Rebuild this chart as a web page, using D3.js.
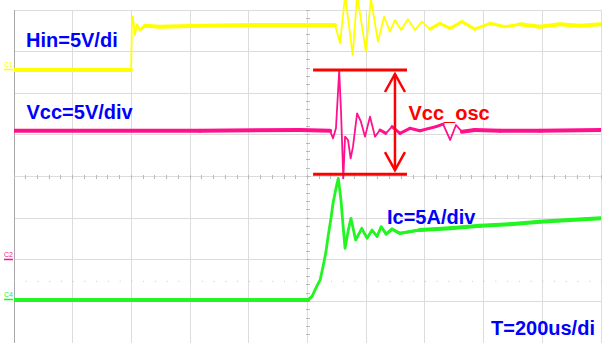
<!DOCTYPE html>
<html lang="en">
  <head>
    <meta charset="UTF-8" />
    <title>Vcc oscillation scope capture</title>
    <script src="https://d3js.org/d3.v7.min.js"></script>
    <style>
      body {
        margin: 0;
        background: #fff;
      }
      .grid line {
        stroke: #dcdcdc;
        stroke-width: 1;
        shape-rendering: crispEdges;
      }
      .tick-mark {
        stroke: #b8b8b8;
        shape-rendering: crispEdges;
      }
      .trace {
        fill: none;
        stroke-linejoin: round;
        stroke-linecap: round;
      }
      .label {
        font-family: "Liberation Sans", Arial, sans-serif;
        font-weight: bold;
        font-size: 20px;
      }
      .ch {
        font-family: "Liberation Sans", Arial, sans-serif;
        font-size: 7px;
      }
    </style>
  </head>
  <body>
    <div id="chart"></div>

    <script>
      // time in us (200us/div, trigger at centre), values in V or A
      const hinTime = [-1000, -601, -598, -595, -588, -581, -571, -554, -503, -366, -196, -26, 94, 111, 128, 154, 169, 199, 216, 240, 261, 281, 298, 319, 342, 366, 390, 417, 451, 486, 526, 570, 622, 673, 724, 792, 860, 928, 1000];
      const hinValue = [0, 0, 6.0, 6.4, 4.2, 5.5, 4.8, 5.3, 5.2, 5.3, 5.4, 5.4, 5.4, 3.2, 9.0, 1.8, 9.0, 2.2, 8.6, 3.4, 6.4, 4.6, 6.0, 4.8, 6.1, 4.8, 5.8, 4.9, 5.6, 5.0, 5.8, 4.9, 5.6, 5.2, 5.5, 5.2, 5.5, 5.3, 5.5];

      const vccTime = [-1000, -366, -26, 77, 87, 97, 108, 114, 122, 128, 138, 147, 155, 169, 182, 196, 213, 230, 247, 267, 288, 315, 349, 383, 438, 462, 486, 506, 526, 570, 656, 792, 1000];
      const vccValue = [15.5, 15.5, 15.6, 15.5, 14.6, 15.8, 22.7, 18.0, 9.8, 14.8, 14.4, 12.2, 13.6, 17.6, 16.6, 14.8, 17.2, 14.8, 15.6, 15.2, 16.0, 15.2, 15.8, 15.5, 16.0, 16.3, 14.4, 16.2, 15.4, 15.6, 15.5, 15.5, 15.6];

      const icTime = [-1000, -366, 2, 15, 31, 43, 53, 63, 70, 80, 87, 97, 105, 114, 121, 128, 138, 148, 164, 185, 203, 220, 237, 251, 268, 288, 315, 383, 486, 588, 690, 792, 894, 1000];
      const icValue = [0, 0, 0, 0.4, 1.6, 2.4, 4.0, 5.8, 7.6, 9.8, 11.6, 13.4, 14.6, 12.0, 9.0, 6.2, 8.2, 9.8, 7.2, 8.6, 7.4, 8.4, 7.6, 8.8, 7.9, 8.5, 8.0, 8.4, 8.6, 8.9, 9.1, 9.4, 9.6, 9.8];

      // channel settings: ground position (div from centre), units per div, trace look
      const channels = [
        { name: "C1", offset: 2.56, perDiv: 5, color: "#ffff00", thin: 1.8, time: hinTime, value: hinValue },
        { name: "C2", offset: -2.0, perDiv: 5, color: "#ff108c", thin: 1.8, time: vccTime, value: vccValue },
        { name: "C4", offset: -2.96, perDiv: 5, color: "#22f522", thin: 2.8, time: icTime, value: icValue },
      ];

      // Vcc_osc cursor: peak / trough of Vcc and the time span of the marker
      const oscMax = 22.8;
      const oscMin = 10.3;
      const oscSpan = [19, 339];
      const oscArrowTime = 298;

      const width = 608;
      const height = 343;
      const plotLeft = 14;
      const plotRight = 601;
      const plotTop = 10;
      const plotBottom = 343.3;

      const svg = d3.select("#chart").append("svg").attr("width", width).attr("height", height);

      const x = d3.scaleLinear().domain([-1000, 1000]).range([plotLeft, plotRight]);
      const y = d3.scaleLinear().domain([-4, 4]).range([plotBottom, plotTop]);

      svg.append("clipPath").attr("id", "screen").append("rect").attr("x", plotLeft).attr("y", 0).attr("width", plotRight - plotLeft).attr("height", height);

      // grid
      const grid = svg.append("g").attr("class", "grid");
      d3.range(-1000, 1001, 200).forEach((t) => {
        grid.append("line").attr("x1", x(t)).attr("x2", x(t)).attr("y1", plotTop).attr("y2", plotBottom);
      });
      d3.range(-4, 5).forEach((d) => {
        grid.append("line").attr("x1", plotLeft).attr("x2", plotRight).attr("y1", y(d)).attr("y2", y(d));
      });
      grid.append("line").attr("x1", plotLeft).attr("x2", plotLeft).attr("y1", plotTop).attr("y2", height).style("stroke", "#a8a8a8");

      // minor ticks on the centre axes
      d3.range(-1000, 1001, 40).forEach((t) => {
        svg.append("line").attr("class", "tick-mark").attr("x1", x(t)).attr("x2", x(t)).attr("y1", y(0) - 2).attr("y2", y(0) + 2);
      });
      d3.range(-4, 4.01, 0.2).forEach((d) => {
        svg.append("line").attr("class", "tick-mark").attr("x1", x(0) - 2).attr("x2", x(0) + 2).attr("y1", y(d)).attr("y2", y(d));
      });
      d3.range(-1000, 1001, 40).forEach((t) => {
        svg.append("rect").attr("x", x(t)).attr("y", y(-2.5)).attr("width", 1).attr("height", 1).attr("fill", "#c8c8c8");
      });

      // traces: thin line everywhere, wide noisy band where the signal is quiet
      const plot = svg.append("g").attr("clip-path", "url(#screen)");
      channels.forEach((ch) => {
        const pts = ch.time.map((t, i) => [x(t), y(ch.offset + ch.value[i] / ch.perDiv)]);
        plot.append("path").attr("class", "trace").attr("d", d3.line()(pts)).attr("stroke", ch.color).attr("stroke-width", ch.thin);
        for (let i = 1; i < pts.length; i++) {
          const [x0, y0] = pts[i - 1];
          const [x1, y1] = pts[i];
          const slope = Math.abs(y1 - y0) / Math.max(x1 - x0, 0.1);
          if (slope > 0.9) continue;
          plot
            .append("line")
            .attr("class", "trace")
            .attr("x1", x0)
            .attr("y1", y0)
            .attr("x2", x1)
            .attr("y2", y1)
            .attr("stroke", ch.color)
            .attr("stroke-width", slope < 0.15 ? 4 : 3);
        }
      });

      // channel ground markers
      channels.forEach((ch) => {
        const gy = y(ch.offset);
        svg.append("text").attr("class", "ch").attr("x", 4).attr("y", gy - 2.5).attr("fill", ch.color).text(ch.name);
        svg.append("line").attr("x1", 4).attr("x2", 13).attr("y1", gy - 0.5).attr("y2", gy - 0.5).attr("stroke", ch.color).attr("stroke-width", 1.5);
      });

      // Vcc_osc marker
      const vcc = channels[1];
      const yMax = y(vcc.offset + oscMax / vcc.perDiv);
      const yMin = y(vcc.offset + oscMin / vcc.perDiv);
      const red = "#ff0000";
      [yMax, yMin].forEach((yy) => {
        svg.append("line").attr("x1", x(oscSpan[0])).attr("x2", x(oscSpan[1])).attr("y1", yy).attr("y2", yy).attr("stroke", red).attr("stroke-width", 3);
      });
      const ax = x(oscArrowTime);
      const arrow = svg.append("g").attr("stroke", red).attr("stroke-width", 2.5).attr("fill", "none");
      arrow.append("line").attr("x1", ax).attr("x2", ax).attr("y1", yMax + 4).attr("y2", yMin - 4);
      arrow.append("path").attr("d", `M${ax - 10},${yMax + 22}L${ax},${yMax + 4}L${ax + 10},${yMax + 22}`);
      arrow.append("path").attr("d", `M${ax - 10},${yMin - 22}L${ax},${yMin - 4}L${ax + 10},${yMin - 22}`);

      // labels
      const labels = [
        { text: "Hin=5V/di", x: 26, y: 46.5, color: "#0000ff" },
        { text: "Vcc=5V/div", x: 26.5, y: 119, color: "#0000ff" },
        { text: "Vcc_osc", x: 408.5, y: 119.5, color: red },
        { text: "Ic=5A/div", x: 387, y: 223.5, color: "#0000ff" },
        { text: "T=200us/di", x: 491, y: 335, color: "#0000ff" },
      ];
      svg
        .selectAll(".label")
        .data(labels)
        .enter()
        .append("text")
        .attr("class", "label")
        .attr("x", (d) => d.x)
        .attr("y", (d) => d.y)
        .attr("fill", (d) => d.color)
        .text((d) => d.text);
    </script>
  </body>
</html>
